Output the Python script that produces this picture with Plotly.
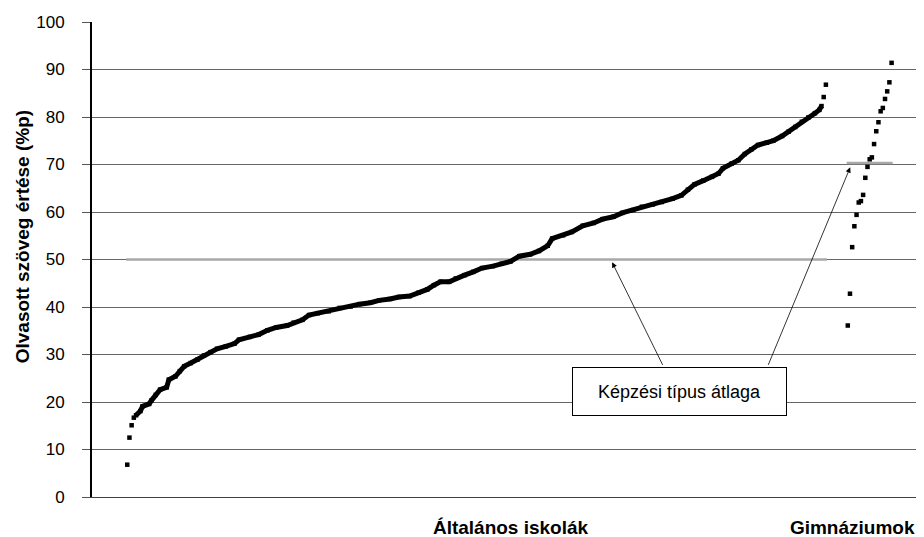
import plotly.graph_objects as go

# ---- data ----
# Általános iskolák: school rank (sorted order) and reading score
general_rank = [1, 2, 3, 4, 5, 7, 8, 11, 12, 14, 16, 19, 20, 23, 25, 27, 30, 33, 36, 39,
                42, 46, 50, 52, 57, 61, 65, 69, 74, 77, 81, 84, 88, 93, 98, 103, 107, 112, 116, 121,
                125, 130, 134, 138, 141, 144, 148, 151, 155, 159, 163, 168, 172, 176, 180, 185, 189, 193, 195, 200,
                204, 209, 214, 218, 223, 227, 232, 236, 241, 245, 250, 254, 257, 260, 264, 268, 271, 273, 277, 280,
                283, 286, 289, 293, 296, 300, 303, 306, 309, 312, 315, 317, 318, 319, 320]
general_value = [6.8, 12.5, 15.1, 16.7, 17.2, 18.1, 19.1, 19.6, 20.3, 21.5, 22.6, 23.1, 24.7, 25.4, 26.5, 27.5, 28.2, 28.9, 29.8, 30.5,
                 31.2, 31.7, 32.3, 33.1, 33.7, 34.2, 35.1, 35.7, 36.1, 36.7, 37.3, 38.3, 38.7, 39.1, 39.8, 40.1, 40.6, 40.9, 41.4, 41.7,
                 42.1, 42.3, 43.0, 43.7, 44.6, 45.3, 45.3, 46.0, 46.7, 47.4, 48.2, 48.6, 49.1, 49.6, 50.7, 51.1, 51.8, 52.9, 54.4, 55.1,
                 55.8, 57.1, 57.7, 58.5, 59.0, 59.8, 60.4, 61.1, 61.6, 62.1, 62.8, 63.5, 64.7, 65.8, 66.6, 67.4, 68.1, 69.2, 70.2, 70.9,
                 72.2, 73.2, 74.1, 74.6, 75.0, 76.0, 76.9, 77.9, 79.0, 79.9, 80.8, 81.5, 82.3, 84.2, 86.8]
general_mean = 50.0

# Gimnáziumok
gym_rank = list(range(330, 351))
gym_value = [36.1, 42.8, 52.6, 57.0, 59.4, 62.0, 62.3, 63.6, 67.2, 69.5, 71.1,
             71.5, 74.3, 77.0, 78.9, 81.2, 81.9, 83.8, 85.4, 87.3, 91.4]
gym_mean = 70.3

category_pos = [176, 332]
category_labels = ["Általános iskolák", "Gimnáziumok"]
y_ticks = list(range(0, 101, 10))

FONT = "Liberation Sans, Arial, sans-serif"

fig = go.Figure()

# group means
fig.add_trace(go.Scatter(x=[general_rank[0] - 0.5, general_rank[-1] + 0.5], y=[general_mean, general_mean],
                         mode="lines", line=dict(color="#a8a8a8", width=2.5), showlegend=False, hoverinfo="skip"))
fig.add_trace(go.Scatter(x=[gym_rank[0] - 0.5, gym_rank[-1] + 0.5], y=[gym_mean, gym_mean],
                         mode="lines", line=dict(color="#a8a8a8", width=2.5), showlegend=False, hoverinfo="skip"))

# dense part of the school curve
fig.add_trace(go.Scatter(x=general_rank[4:-2], y=general_value[4:-2], mode="lines",
                         line=dict(color="black", width=5), showlegend=False, hoverinfo="skip"))
fig.add_trace(go.Scatter(x=general_rank, y=general_value, mode="markers",
                         marker=dict(symbol="square", size=4.5, color="black"),
                         name="Általános iskolák", showlegend=False))
fig.add_trace(go.Scatter(x=gym_rank, y=gym_value, mode="markers",
                         marker=dict(symbol="square", size=4.5, color="black"),
                         name="Gimnáziumok", showlegend=False))

# label box
fig.add_annotation(x=253, y=22.3, xref="x", yref="y", text="Képzési típus átlaga",
                   showarrow=False, font=dict(family=FONT, size=18, color="black"),
                   bgcolor="white", bordercolor="black", borderwidth=1, borderpad=0,
                   width=213, height=47)
# arrows
fig.add_annotation(x=222.4, y=49.4, xref="x", yref="y", ax=245.8, ay=27.5, axref="x", ayref="y",
                   text="", showarrow=True, arrowhead=2, arrowsize=1.3, arrowwidth=0.8,
                   arrowcolor="black", standoff=0, startstandoff=0)
fig.add_annotation(x=331.1, y=69.4, xref="x", yref="y", ax=293.4, ay=27.5, axref="x", ayref="y",
                   text="", showarrow=True, arrowhead=2, arrowsize=1.3, arrowwidth=0.8,
                   arrowcolor="black", standoff=0, startstandoff=0)

# y title
fig.add_annotation(x=-0.084, y=0.547, xref="paper", yref="paper",
                   text="<b>Olvasott szöveg értése (%p)</b>", textangle=-90, showarrow=False,
                   font=dict(family=FONT, size=19, color="black"), xanchor="center", yanchor="middle")

# page body has an 8px margin, so the figure is 8px smaller and margins shifted
fig.update_layout(
    width=916, height=529,
    margin=dict(l=84, r=0, t=14, b=40),
    plot_bgcolor="white", paper_bgcolor="white",
    font=dict(family=FONT, color="black"),
    showlegend=False,
)
fig.update_xaxes(range=[-15.1, 364.8], showgrid=False, zeroline=False,
                 showline=True, linecolor="#404040", linewidth=1,
                 tickmode="array", tickvals=category_pos,
                 ticktext=[f"<b>{t}</b>" for t in category_labels],
                 ticks="", tickfont=dict(family=FONT, size=19, color="black"),
                 ticklabelstandoff=13)
fig.update_yaxes(range=[0, 100], tickmode="array", tickvals=y_ticks,
                 showgrid=True, gridcolor="#666666", gridwidth=1.2, zeroline=False,
                 showline=True, linecolor="black", linewidth=2,
                 ticks="outside", ticklen=8, tickcolor="#555555", tickwidth=1,
                 tickfont=dict(family=FONT, size=17, color="black"),
                 ticklabelstandoff=14)

fig.write_html("out.html")
